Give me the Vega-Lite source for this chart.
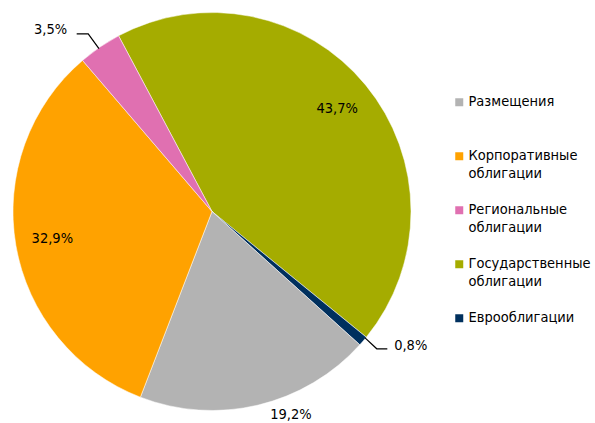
{
  "$schema": "https://vega.github.io/schema/vega-lite/v6.json",
  "width": 424,
  "height": 423,
  "autosize": {"type": "none"},
  "padding": {"left": 0, "top": 0, "right": 171, "bottom": 0},
  "background": "white",
  "datasets": {
    "slices": [
      {"cat": "Государственные|облигации", "v": 43.7, "ord": 1, "label": "43,7%"},
      {"cat": "Еврооблигации", "v": 0.8, "ord": 2, "label": "0,8%"},
      {"cat": "Размещения", "v": 19.2, "ord": 3, "label": "19,2%"},
      {"cat": "Корпоративные|облигации", "v": 32.9, "ord": 4, "label": "32,9%"},
      {"cat": "Региональные|облигации", "v": 3.5, "ord": 5, "label": "3,5%"}
    ],
    "leaders": [
      {"grp": "a", "px": -0.680, "py": 0.893, "k": 1},
      {"grp": "a", "px": -0.622, "py": 0.893, "k": 2},
      {"grp": "a", "px": -0.568, "py": 0.818, "k": 3},
      {"grp": "b", "px": 0.769, "py": -0.635, "k": 1},
      {"grp": "b", "px": 0.828, "py": -0.690, "k": 2},
      {"grp": "b", "px": 0.881, "py": -0.690, "k": 3}
    ]
  },
  "layer": [
    {
      "data": {"name": "slices"},
      "mark": {"type": "arc", "radius": 199, "stroke": "white", "strokeWidth": 0.5},
      "encoding": {
        "theta": {"field": "v", "type": "quantitative", "stack": true, "scale": {"range": [-0.4887, 5.7945]}},
        "order": {"field": "ord", "type": "quantitative"},
        "color": {
          "field": "cat", "type": "nominal",
          "scale": {
            "domain": ["Размещения", "Корпоративные|облигации", "Региональные|облигации", "Государственные|облигации", "Еврооблигации"],
            "range": ["#B3B3B3", "#FFA200", "#E070B1", "#A5AC00", "#00305E"]
          },
          "legend": {
            "title": null,
            "orient": "none",
            "legendX": 452,
            "legendY": 95,
            "symbolType": "square",
            "symbolSize": 64,
            "symbolStrokeWidth": 0,
            "labelExpr": "split(datum.label, '|')",
            "labelFont": "DejaVu Sans Condensed",
            "labelFontSize": 14.5,
            "labelColor": "#000000",
            "labelOffset": 2,
            "labelBaseline": "middle",
            "labelLimit": 300,
            "gridAlign": "all",
            "rowPadding": 21,
            "padding": 0
          }
        }
      }
    },
    {
      "data": {"name": "slices"},
      "mark": {"type": "text", "radius": 162, "font": "DejaVu Sans Condensed", "fontSize": 14.5, "color": "#000000"},
      "encoding": {
        "theta": {"field": "v", "type": "quantitative", "stack": true},
        "order": {"field": "ord", "type": "quantitative"},
        "text": {"condition": {"test": "datum.ord == 1 || datum.ord == 4", "field": "label"}, "value": ""}
      }
    },
    {
      "data": {"name": "slices"},
      "mark": {"type": "text", "radius": 215, "dx": 29, "dy": -6, "font": "DejaVu Sans Condensed", "fontSize": 14.5, "color": "#000000"},
      "encoding": {
        "theta": {"field": "v", "type": "quantitative", "stack": true},
        "order": {"field": "ord", "type": "quantitative"},
        "text": {"condition": {"test": "datum.ord == 3", "field": "label"}, "value": ""}
      }
    },
    {
      "data": {"name": "slices"},
      "mark": {"type": "text", "radius": 244, "dx": -24, "dy": 20, "font": "DejaVu Sans Condensed", "fontSize": 14.5, "color": "#000000"},
      "encoding": {
        "theta": {"field": "v", "type": "quantitative", "stack": true},
        "order": {"field": "ord", "type": "quantitative"},
        "text": {"condition": {"test": "datum.ord == 5", "field": "label"}, "value": ""}
      }
    },
    {
      "data": {"name": "slices"},
      "mark": {"type": "text", "radius": 238, "dx": 18, "dy": -20, "font": "DejaVu Sans Condensed", "fontSize": 14.5, "color": "#000000"},
      "encoding": {
        "theta": {"field": "v", "type": "quantitative", "stack": true},
        "order": {"field": "ord", "type": "quantitative"},
        "text": {"condition": {"test": "datum.ord == 2", "field": "label"}, "value": ""}
      }
    },
    {
      "data": {"name": "leaders"},
      "mark": {"type": "line", "color": "#000000", "strokeWidth": 1.2},
      "encoding": {
        "x": {"field": "px", "type": "quantitative", "scale": {"domain": [-1.0653, 1.0653], "nice": false, "zero": false}, "axis": null},
        "y": {"field": "py", "type": "quantitative", "scale": {"domain": [-1.0628, 1.0628], "nice": false, "zero": false}, "axis": null},
        "detail": {"field": "grp", "type": "nominal"},
        "order": {"field": "k", "type": "quantitative"}
      }
    }
  ],
  "config": {
    "view": {"stroke": null},
    "style": {"guide-label": {"lineHeight": 18}}
  }
}
